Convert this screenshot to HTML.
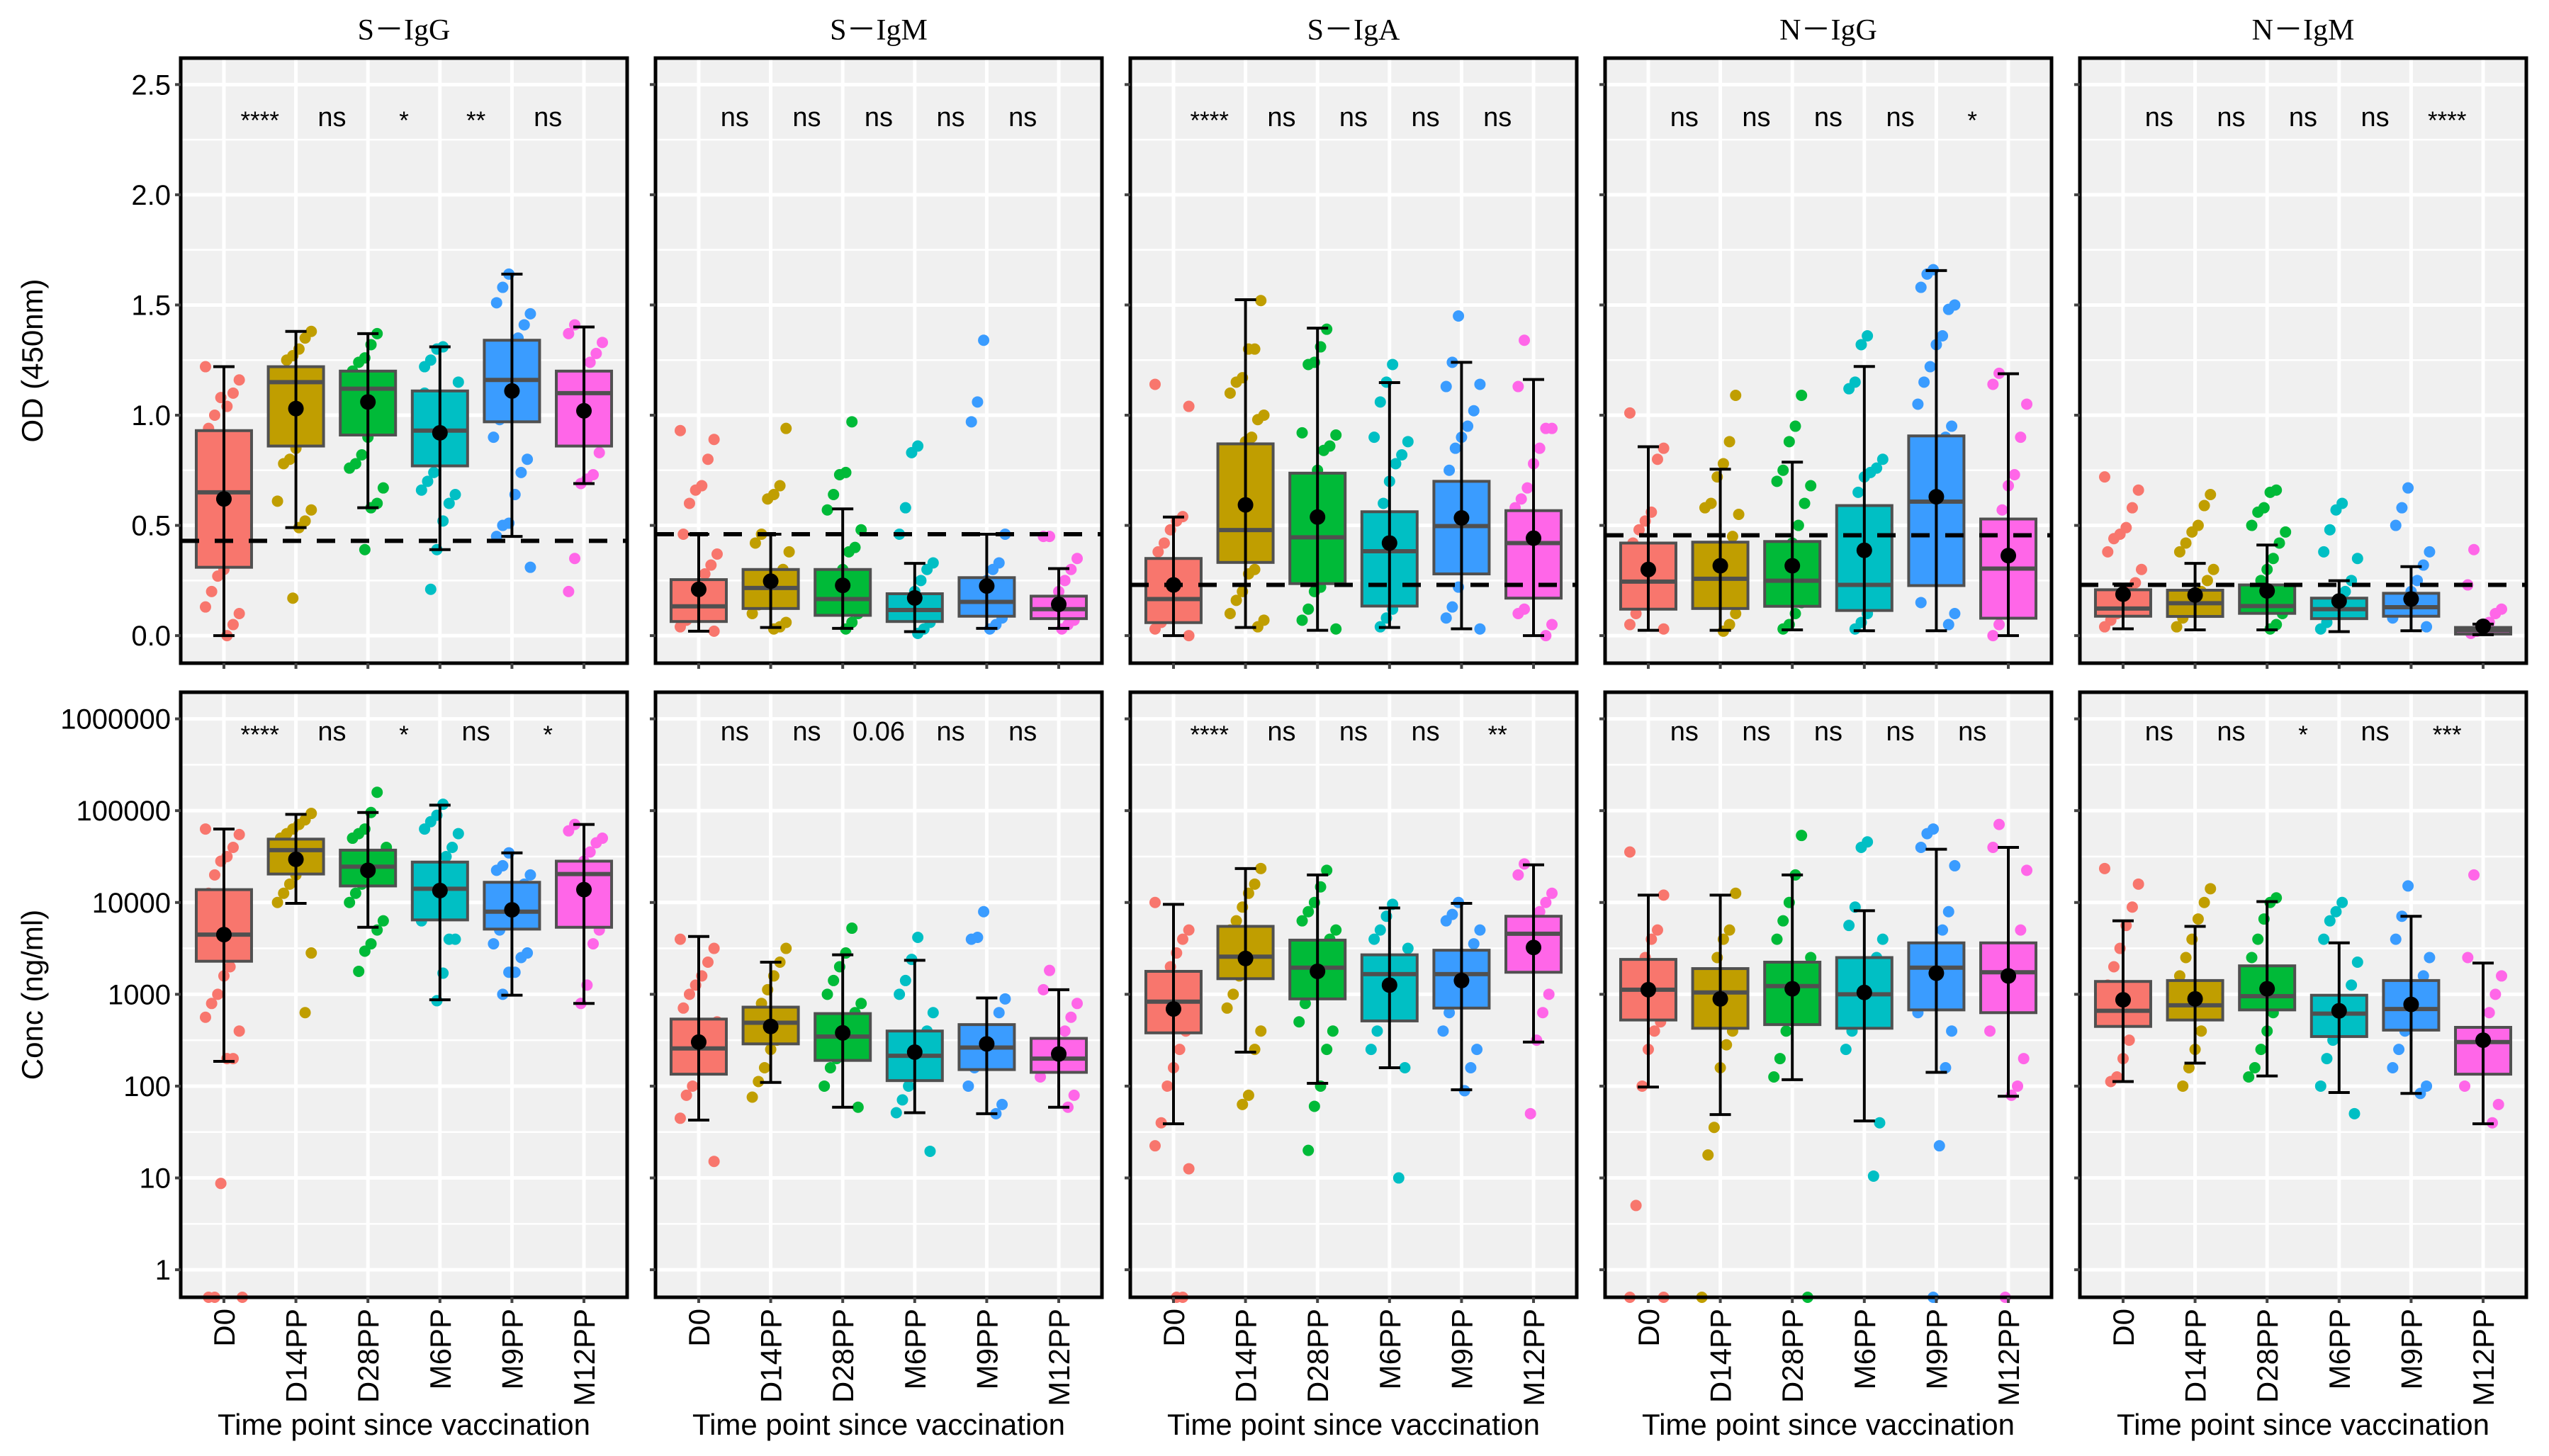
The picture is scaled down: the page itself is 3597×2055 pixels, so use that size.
<!DOCTYPE html>
<html><head><meta charset="utf-8">
<style>
html,body{margin:0;padding:0;background:#fff;}
svg{display:block;}
</style></head>
<body>
<svg id="chart" width="3597" height="2055" viewBox="0 0 3597 2055" xmlns="http://www.w3.org/2000/svg"></svg>
<script>
// ---------- data ----------
const panelTitles = ["S－IgG","S－IgM","S－IgA","N－IgG","N－IgM"];
const categories = ["D0","D14PP","D28PP","M6PP","M9PP","M12PP"];
const colors = ["#F8766D","#C09E00","#00BA38","#00BFC4","#3A9CFF","#FF66E8"];

const odTicks = [0.0,0.5,1.0,1.5,2.0,2.5];
const odTickLabels = ["0.0","0.5","1.0","1.5","2.0","2.5"];
const concTicks = [0,1,2,3,4,5,6];
const concTickLabels = ["1","10","100","1000","10000","100000","1000000"];

const odCutoff = [0.43,0.46,0.23,0.455,0.23];

// OD box stats per panel: [q1, median, q3, mean, lo, hi] for each category
const odStats = [
 [[0.31,0.65,0.93,0.62,0.0,1.22],[0.86,1.15,1.22,1.03,0.49,1.38],[0.91,1.12,1.2,1.06,0.58,1.37],[0.77,0.93,1.11,0.92,0.39,1.31],[0.97,1.16,1.34,1.11,0.45,1.64],[0.86,1.1,1.2,1.02,0.69,1.4]],
 [[0.064,0.133,0.254,0.21,0.02,0.46],[0.123,0.216,0.30,0.247,0.037,0.46],[0.092,0.166,0.30,0.228,0.033,0.575],[0.064,0.116,0.19,0.171,0.018,0.328],[0.088,0.153,0.263,0.225,0.033,0.46],[0.077,0.12,0.179,0.142,0.033,0.304]],
 [[0.059,0.166,0.35,0.23,0.0,0.538],[0.332,0.479,0.87,0.593,0.037,1.524],[0.236,0.446,0.737,0.538,0.024,1.395],[0.134,0.383,0.562,0.42,0.037,1.148],[0.28,0.497,0.70,0.534,0.031,1.24],[0.17,0.42,0.567,0.442,0.0,1.162]],
 [[0.12,0.245,0.42,0.30,0.024,0.857],[0.123,0.258,0.424,0.317,0.024,0.755],[0.133,0.249,0.427,0.317,0.026,0.787],[0.114,0.23,0.59,0.387,0.022,1.221],[0.227,0.608,0.906,0.63,0.022,1.656],[0.079,0.304,0.529,0.363,0.0,1.188]],
 [[0.088,0.123,0.208,0.188,0.031,0.234],[0.087,0.147,0.206,0.184,0.026,0.328],[0.101,0.134,0.23,0.203,0.026,0.411],[0.077,0.12,0.17,0.157,0.018,0.249],[0.088,0.129,0.192,0.166,0.022,0.313],[0.007,0.024,0.037,0.042,0.004,0.052]]
];
// OD individual points
const odPoints = [
 [[1.22,1.16,1.1,1.04,1.08,1.0,0.94,0.8,0.6,0.45,0.3,0.27,0.2,0.13,0.1,0.05,0.0,0.65,0.5,0.38],
  [1.38,1.35,1.3,1.27,1.25,1.2,1.15,1.05,0.95,0.85,0.8,0.78,0.61,0.57,0.52,0.49,0.17,1.1],
  [1.37,1.32,1.26,1.24,1.2,1.15,1.1,1.0,0.9,0.82,0.78,0.76,0.67,0.6,0.58,0.39,1.05],
  [1.31,1.3,1.25,1.22,1.15,1.05,0.95,0.85,0.74,0.7,0.66,0.64,0.6,0.52,0.39,0.21,1.1],
  [1.64,1.58,1.51,1.46,1.41,1.35,1.25,1.1,0.98,0.9,0.8,0.74,0.64,0.51,0.5,0.45,0.31,1.2],
  [1.41,1.37,1.33,1.28,1.24,1.18,1.1,1.0,0.9,0.83,0.73,0.71,0.69,0.35,0.2,1.05]],
 [[0.93,0.89,0.8,0.68,0.66,0.6,0.46,0.37,0.32,0.28,0.22,0.15,0.07,0.04,0.02,0.1,0.12],
  [0.94,0.68,0.64,0.62,0.46,0.42,0.38,0.3,0.26,0.22,0.18,0.14,0.1,0.06,0.04,0.03],
  [0.97,0.74,0.73,0.64,0.57,0.48,0.4,0.38,0.3,0.25,0.2,0.15,0.1,0.06,0.03],
  [0.86,0.83,0.58,0.46,0.33,0.3,0.25,0.2,0.15,0.12,0.09,0.06,0.03,0.01],
  [1.34,1.06,0.97,0.46,0.33,0.3,0.25,0.2,0.15,0.12,0.08,0.05,0.03],
  [0.45,0.45,0.35,0.3,0.25,0.2,0.16,0.12,0.1,0.07,0.05,0.03]],
 [[1.14,1.04,0.54,0.52,0.48,0.42,0.38,0.3,0.25,0.2,0.15,0.1,0.06,0.03,0.0],
  [1.52,1.3,1.3,1.17,1.15,1.1,1.0,0.98,0.9,0.88,0.78,0.7,0.6,0.45,0.3,0.28,0.2,0.16,0.1,0.07,0.04],
  [1.39,1.31,1.24,1.23,0.92,0.91,0.86,0.84,0.75,0.7,0.6,0.5,0.4,0.3,0.22,0.2,0.12,0.07,0.03],
  [1.23,1.15,1.06,0.9,0.88,0.82,0.78,0.7,0.6,0.5,0.4,0.3,0.2,0.12,0.08,0.04],
  [1.45,1.24,1.13,1.14,1.02,0.95,0.9,0.85,0.75,0.62,0.5,0.4,0.3,0.22,0.13,0.08,0.03],
  [1.34,1.13,0.94,0.94,0.85,0.78,0.67,0.62,0.58,0.5,0.4,0.3,0.2,0.12,0.1,0.05,0.0]],
 [[1.01,0.85,0.8,0.56,0.52,0.48,0.42,0.35,0.3,0.25,0.2,0.15,0.1,0.05,0.03],
  [1.09,0.88,0.78,0.72,0.6,0.58,0.55,0.45,0.38,0.3,0.25,0.2,0.15,0.1,0.05,0.02],
  [1.09,0.95,0.88,0.75,0.7,0.68,0.6,0.5,0.42,0.35,0.3,0.25,0.2,0.15,0.1,0.05,0.03],
  [1.36,1.32,1.15,1.12,0.8,0.76,0.74,0.72,0.65,0.45,0.3,0.2,0.15,0.1,0.06,0.03],
  [1.66,1.64,1.58,1.5,1.48,1.36,1.32,1.22,1.15,1.05,0.95,0.9,0.6,0.35,0.25,0.15,0.1,0.05],
  [1.19,1.14,1.05,0.9,0.73,0.68,0.57,0.5,0.4,0.3,0.25,0.15,0.1,0.05,0.0]],
 [[0.72,0.66,0.58,0.49,0.46,0.44,0.38,0.3,0.24,0.2,0.15,0.1,0.07,0.04],
  [0.64,0.59,0.5,0.47,0.42,0.38,0.3,0.25,0.2,0.15,0.12,0.08,0.04],
  [0.66,0.65,0.58,0.56,0.5,0.47,0.42,0.35,0.3,0.25,0.2,0.15,0.1,0.05,0.03],
  [0.6,0.57,0.48,0.38,0.35,0.25,0.2,0.15,0.1,0.06,0.03],
  [0.67,0.58,0.5,0.38,0.32,0.25,0.2,0.15,0.12,0.08,0.04],
  [0.39,0.23,0.12,0.1,0.06,0.04,0.02,0.01]]
];
// Conc box stats (log10 ng/ml): [q1, median, q3, mean, lo, hi]
const concStats = [
 [[3.36,3.65,4.14,3.65,2.27,4.80],[4.31,4.57,4.69,4.47,3.99,4.96],[4.18,4.39,4.57,4.35,3.73,4.98],[3.81,4.15,4.44,4.13,2.94,5.06],[3.71,3.90,4.22,3.92,2.99,4.54],[3.73,4.31,4.45,4.14,2.90,4.85]],
 [[2.13,2.41,2.73,2.48,1.63,3.63],[2.46,2.69,2.86,2.65,2.04,3.35],[2.28,2.54,2.79,2.58,1.77,3.43],[2.06,2.33,2.60,2.37,1.71,3.37],[2.18,2.42,2.67,2.46,1.70,2.96],[2.15,2.30,2.52,2.35,1.77,3.05]],
 [[2.58,2.92,3.25,2.84,1.59,3.98],[3.17,3.41,3.74,3.39,2.37,4.37],[2.95,3.29,3.59,3.25,2.03,4.30],[2.71,3.22,3.43,3.10,2.20,3.94],[2.85,3.22,3.48,3.15,1.96,3.99],[3.24,3.66,3.85,3.51,2.48,4.41]],
 [[2.72,3.05,3.38,3.05,1.99,4.08],[2.63,3.02,3.28,2.95,1.69,4.08],[2.67,3.09,3.35,3.06,2.07,4.30],[2.63,3.00,3.40,3.02,1.62,3.91],[2.83,3.29,3.56,3.23,2.15,4.58],[2.80,3.24,3.56,3.20,1.89,4.60]],
 [[2.65,2.82,3.14,2.94,2.05,3.80],[2.72,2.88,3.15,2.95,2.25,3.74],[2.83,2.98,3.31,3.06,2.11,4.01],[2.54,2.79,2.99,2.82,1.93,3.56],[2.61,2.84,3.15,2.89,1.92,3.85],[2.13,2.48,2.64,2.50,1.59,3.34]]
];
const concPoints = [
 [[4.8,4.74,4.6,4.5,4.45,4.3,4.1,3.9,3.6,3.3,3.2,3.0,2.9,2.75,2.6,2.3,2.3,0.94,-0.3,-0.3,-0.3],
  [4.97,4.9,4.85,4.8,4.75,4.7,4.6,4.5,4.4,4.3,4.2,4.1,4.0,3.45,2.8],
  [5.2,4.98,4.8,4.75,4.7,4.6,4.5,4.4,4.3,4.2,4.1,4.0,3.8,3.7,3.55,3.47,3.25],
  [5.07,4.95,4.88,4.8,4.75,4.6,4.5,4.3,4.1,3.9,3.8,3.6,3.6,3.23,2.93],
  [4.54,4.4,4.35,4.3,4.2,4.1,4.0,3.9,3.7,3.55,3.45,3.4,3.24,3.24,3.0],
  [4.85,4.78,4.7,4.65,4.55,4.45,4.3,4.0,3.8,3.7,3.55,3.1,2.9]],
 [[3.6,3.5,3.35,3.2,3.1,3.0,2.85,2.7,2.5,2.3,2.2,2.0,1.9,1.65,1.18],
  [3.5,3.35,3.2,3.05,2.9,2.8,2.7,2.6,2.5,2.4,2.2,2.05,1.88],
  [3.72,3.45,3.3,3.15,3.0,2.9,2.8,2.6,2.4,2.3,2.2,2.0,1.77],
  [3.62,3.38,3.15,3.0,2.8,2.6,2.4,2.2,2.0,1.85,1.71,1.29],
  [3.9,3.62,3.6,2.95,2.8,2.6,2.45,2.3,2.2,2.0,1.8,1.7],
  [3.26,3.05,2.9,2.75,2.6,2.45,2.3,2.2,2.1,1.9,1.77]],
 [[4.0,3.7,3.6,3.45,3.3,3.1,3.0,2.8,2.6,2.4,2.2,2.0,1.6,1.35,1.1,-0.3,-0.3],
  [4.37,4.2,4.1,3.95,3.8,3.7,3.6,3.5,3.4,3.3,3.2,3.0,2.85,2.6,2.4,1.9,1.8],
  [4.35,4.17,4.0,3.9,3.8,3.7,3.6,3.5,3.3,3.1,2.9,2.7,2.6,2.4,2.0,1.78,1.3],
  [3.98,3.85,3.7,3.6,3.5,3.3,3.1,2.9,2.8,2.6,2.4,2.2,1.0],
  [4.0,3.87,3.8,3.7,3.55,3.4,3.2,3.0,2.8,2.6,2.4,2.2,1.95],
  [4.42,4.3,4.1,4.0,3.9,3.8,3.65,3.5,3.3,3.0,2.8,2.5,1.7]],
 [[4.55,4.08,3.7,3.6,3.4,3.2,3.0,2.85,2.7,2.6,2.4,2.0,0.7,-0.3,-0.3],
  [4.1,3.7,3.6,3.4,3.2,3.0,2.8,2.6,2.45,2.2,1.55,1.25,-0.3],
  [4.73,4.3,4.0,3.8,3.6,3.4,3.2,3.0,2.8,2.6,2.3,2.1,-0.3],
  [4.66,4.6,3.95,3.75,3.6,3.4,3.2,3.0,2.8,2.6,2.4,1.6,1.02],
  [4.8,4.75,4.6,4.4,3.9,3.7,3.5,3.3,3.0,2.8,2.6,2.2,1.35,-0.3],
  [4.85,4.6,4.35,3.7,3.5,3.3,3.1,2.9,2.6,2.3,2.0,1.9,-0.3]],
 [[4.37,4.2,3.95,3.75,3.5,3.3,3.1,2.9,2.7,2.5,2.3,2.1,2.05],
  [4.15,4.0,3.82,3.6,3.4,3.2,3.0,2.8,2.6,2.4,2.2,2.0],
  [4.05,4.0,3.82,3.6,3.4,3.2,3.0,2.8,2.6,2.4,2.2,2.1],
  [4.0,3.9,3.8,3.6,3.35,3.1,2.9,2.7,2.5,2.3,2.0,1.7],
  [4.18,3.85,3.6,3.4,3.2,3.0,2.8,2.6,2.4,2.2,2.0,1.92],
  [4.3,3.4,3.2,3.0,2.8,2.6,2.4,2.2,2.0,1.8,1.6]]
];
const odSig = [["****","ns","*","**","ns"],["ns","ns","ns","ns","ns"],["****","ns","ns","ns","ns"],["ns","ns","ns","ns","*"],["ns","ns","ns","ns","****"]];
const concSig = [["****","ns","*","ns","*"],["ns","ns","0.06","ns","ns"],["****","ns","ns","ns","**"],["ns","ns","ns","ns","ns"],["ns","ns","*","ns","***"]];

// ---------- drawing ----------
const svg = document.getElementById('chart');
const NS = "http://www.w3.org/2000/svg";
function mk(tag, attrs, parent){
  const e = document.createElementNS(NS, tag);
  for (const k in attrs) e.setAttribute(k, attrs[k]);
  (parent||svg).appendChild(e);
  return e;
}
const panelLeft0 = 255, panelW = 630, panelPitch = 670;
const rows = [
  {top:82, bottom:936, vmin:-0.125, vmax:2.62, ticks:odTicks, labels:odTickLabels, minor:[0.25,0.75,1.25,1.75,2.25], stats:odStats, pts:odPoints, sig:odSig, sigY:178, title:"OD (450nm)", name:"od"},
  {top:977, bottom:1831, vmin:-0.30, vmax:6.29, ticks:concTicks, labels:concTickLabels, minor:[0.5,1.5,2.5,3.5,4.5,5.5], stats:concStats, pts:concPoints, sig:concSig, sigY:1045, title:"Conc (ng/ml)", name:"conc"}
];
const FONT = '"Liberation Sans", Arial, sans-serif';

rows.forEach((row, r) => {
  const yS = v => row.bottom - (v - row.vmin) / (row.vmax - row.vmin) * (row.bottom - row.top);
  for (let p = 0; p < 5; p++) {
    const L = panelLeft0 + p * panelPitch, R = L + panelW;
    const step = panelW / 6.2;
    const xS = i => L + step * (0.6 + i);
    const g = mk('g', {});
    
    
    const bg = mk('rect', {x:L, y:row.top, width:panelW, height:row.bottom-row.top, fill:'#F0F0F0'}, g);
    
    
    row.minor.forEach(v => { mk('line', {x1:L, x2:R, y1:yS(v), y2:yS(v), stroke:'#fff', 'stroke-width':2.5}, g); });
    row.ticks.forEach(v => { mk('line', {x1:L, x2:R, y1:yS(v), y2:yS(v), stroke:'#fff', 'stroke-width':5}, g); });
    categories.forEach((c, i) => { mk('line', {x1:xS(i), x2:xS(i), y1:row.top, y2:row.bottom, stroke:'#fff', 'stroke-width':5}, g); });
    row.pts[p].forEach((arr, i) => {
      arr.forEach((v, k) => {
        const off = (((k * 37 + i * 11) % 13) - 6) / 6 * 26;
        const pt = mk('circle', {cx:xS(i) + off, cy:yS(v), r:8, fill:colors[i]}, g);
        
        
      });
    });
    row.stats[p].forEach((s, i) => {
      const bw = 78, x = xS(i);
      const box = mk('rect', {x:x-bw/2, y:yS(s[2]), width:bw, height:Math.max(2, yS(s[0]) - yS(s[2])), fill:colors[i], stroke:'#505050', 'stroke-width':4}, g);
      
      
      const med = mk('line', {x1:x-bw/2, x2:x+bw/2, y1:yS(s[1]), y2:yS(s[1]), stroke:'#505050', 'stroke-width':6}, g);
      
      
    });
    if (r === 0) {
      const dl = mk('line', {x1:L, x2:R, y1:yS(odCutoff[p]), y2:yS(odCutoff[p]), stroke:'#000', 'stroke-width':6, 'stroke-dasharray':'26,22'}, g);
      
      
    }
    row.stats[p].forEach((s, i) => {
      const x = xS(i);
      const eb = mk('path', {d:`M${x},${yS(s[4])}V${yS(s[5])}M${x-15},${yS(s[4])}H${x+15}M${x-15},${yS(s[5])}H${x+15}`, stroke:'#000', 'stroke-width':4, fill:'none'}, g);
      
      
      const m = mk('circle', {cx:x, cy:yS(s[3]), r:11, fill:'#000'}, g);
      
      
    });
    row.sig[p].forEach((t, i) => {
      const isStar = t.indexOf('*') === 0;
      const tx = mk('text', {x:xS(i+0.5), y:row.sigY + (isStar ? 4 : 0), 'text-anchor':'middle', 'font-family':FONT, 'font-size': isStar ? 35 : 38, fill:'#000'}, g);
      tx.textContent = t;
      
      
    });
    mk('rect', {x:L, y:row.top, width:panelW, height:row.bottom-row.top, fill:'none', stroke:'#000', 'stroke-width':5}, g);
    row.ticks.forEach((v, k) => {
      mk('line', {x1:L-8, x2:L, y1:yS(v), y2:yS(v), stroke:'#444', 'stroke-width':4}, g);
      if (p === 0) {
        const t = mk('text', {x:L-14, y:yS(v)+14, 'text-anchor':'end', 'font-family':FONT, 'font-size':40, fill:'#000'}, g);
        t.textContent = row.labels[k];
        
        
      }
    });
    categories.forEach((c, i) => {
      mk('line', {x1:xS(i), x2:xS(i), y1:row.bottom, y2:row.bottom+8, stroke:'#444', 'stroke-width':4}, g);
      if (r === 1) {
        const t = mk('text', {x:0, y:0, 'text-anchor':'end', 'font-family':FONT, 'font-size':42, fill:'#000', transform:`translate(${xS(i)+15},${row.bottom+16}) rotate(-90)`}, g);
        t.textContent = c;
        
        
      }
    });
    if (r === 0) {
      const st = mk('text', {x:(L+R)/2, y:56, 'text-anchor':'middle', 'font-family':'"Liberation Serif", serif', 'font-size':42, fill:'#000'}, g);
      st.textContent = panelTitles[p];
      
      
    } else {
      const xt = mk('text', {x:(L+R)/2, y:2025, 'text-anchor':'middle', 'font-family':FONT, 'font-size':42, fill:'#000'}, g);
      xt.textContent = 'Time point since vaccination';
      
      
    }
  }
  const cy = (row.top + row.bottom) / 2;
  const yt = mk('text', {x:0, y:0, 'text-anchor':'middle', 'font-family':FONT, 'font-size':42, fill:'#000', transform:`translate(60,${cy}) rotate(-90)`});
  yt.textContent = row.title;
  
  
});
</script>
</body></html>
